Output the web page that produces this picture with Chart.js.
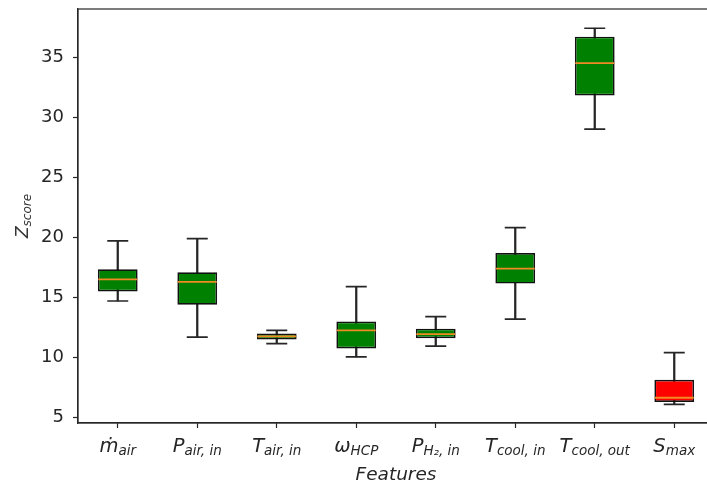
<!DOCTYPE html>
<html>
<head>
<meta charset="utf-8">
<script src="https://cdn.jsdelivr.net/npm/chart.js@4"></script>
<style>
  html, body { margin: 0; padding: 0; background: #fff; overflow: hidden; }
</style>
</head>
<body>
<canvas id="myChart" width="714" height="484"></canvas>
<script>
// features on the x axis, "_" splits the symbol from its subscript
var features = ['ṁ_air', 'P_air, in', 'T_air, in', 'ω_HCP', 'P_H₂, in', 'T_cool, in', 'T_cool, out', 'S_max'];
var whiskerLow  = [14.7, 11.7, 11.15, 10.05, 10.95, 13.2, 29.0, 6.1];
var quartile1   = [15.5, 14.4, 11.5, 10.75, 11.6, 16.15, 31.8, 6.3];
var medians     = [16.5, 16.3, 11.75, 12.25, 11.95, 17.4, 34.5, 6.65];
var quartile3   = [17.35, 17.1, 12.0, 13.0, 12.4, 18.7, 36.7, 8.15];
var whiskerHigh = [19.7, 19.9, 12.25, 15.9, 13.4, 20.8, 37.4, 10.4];
var boxColors   = ['green', 'green', 'green', 'green', 'green', 'green', 'green', 'red'];
var yTicks = [5, 10, 15, 20, 25, 30, 35];
var yTitle = 'Z_score';
var xTitle = 'Features';

var inkColor = '#262626';

function drawMath(ctx, text, cx, y, size, subSize) {
  var parts = text.split('_');
  var mainFont = 'italic ' + size + 'px "DejaVu Sans"';
  var subFont = 'italic ' + subSize + 'px "DejaVu Sans"';
  ctx.font = mainFont;
  var w1 = ctx.measureText(parts[0]).width;
  ctx.font = subFont;
  var w2 = ctx.measureText(parts[1]).width;
  var left = cx - (w1 + w2) / 2;
  ctx.textAlign = 'left';
  ctx.textBaseline = 'alphabetic';
  ctx.font = mainFont;
  ctx.fillText(parts[0], left, y);
  ctx.font = subFont;
  ctx.fillText(parts[1], left + w1, y + size * 0.16);
}

// frame, math tick labels and y title
var mathLabels = {
  id: 'mathLabels',
  afterDraw: function(chart) {
    var ctx = chart.ctx;
    var area = chart.chartArea;
    var xScale = chart.scales.x;
    ctx.save();
    ctx.strokeStyle = inkColor;
    ctx.lineWidth = 1.2;
    ctx.strokeRect(area.left, area.top, area.right - area.left, area.bottom - area.top);
    ctx.fillStyle = inkColor;
    for (var i = 0; i < features.length; i++) {
      drawMath(ctx, features[i], xScale.getPixelForValue(i), area.bottom + 29, 19.5, 13.5);
    }
    ctx.translate(28, (area.top + area.bottom) / 2);
    ctx.rotate(-Math.PI / 2);
    ctx.fillStyle = '#333';
    drawMath(ctx, yTitle, 0, 0, 17, 12);
    ctx.restore();
  }
};

function pairs(a, b) {
  var out = [];
  for (var i = 0; i < a.length; i++) {
    out.push([a[i], b[i]]);
  }
  return out;
}

var ctx = document.getElementById('myChart').getContext('2d');
var chart = new Chart(ctx, {
  type: 'bar',
  data: {
    labels: features,
    datasets: [
      {
        // whisker stems
        data: pairs(whiskerLow, whiskerHigh),
        backgroundColor: inkColor,
        barThickness: 1.6,
        grouped: false,
        order: 3
      },
      {
        // boxes q1..q3
        data: pairs(quartile1, quartile3),
        backgroundColor: boxColors,
        borderColor: '#111',
        borderWidth: 1.7,
        borderSkipped: false,
        barPercentage: 0.5,
        categoryPercentage: 1,
        grouped: false,
        order: 2
      },
      {
        type: 'line',
        data: medians,
        showLine: false,
        pointStyle: 'line',
        pointRadius: 19.5,
        pointBorderColor: '#f08a24',
        pointBorderWidth: 1.8,
        order: 1
      },
      {
        type: 'line',
        data: whiskerLow,
        showLine: false,
        pointStyle: 'line',
        pointRadius: 10.5,
        pointBorderColor: inkColor,
        pointBorderWidth: 1.7,
        order: 1
      },
      {
        type: 'line',
        data: whiskerHigh,
        showLine: false,
        pointStyle: 'line',
        pointRadius: 10.5,
        pointBorderColor: inkColor,
        pointBorderWidth: 1.7,
        order: 1
      }
    ]
  },
  options: {
    responsive: false,
    animation: false,
    events: [],
    layout: { padding: { top: 9, left: 0, right: 0, bottom: 0 }, autoPadding: false },
    plugins: { legend: { display: false }, tooltip: { enabled: false } },
    scales: {
      x: {
        offset: true,
        grid: { offset: false, drawOnChartArea: false, tickLength: 5, tickColor: inkColor, tickWidth: 1.2 },
        border: { color: inkColor, width: 1.2 },
        ticks: { display: false },
        title: {
          display: true,
          text: xTitle,
          color: inkColor,
          padding: 0,
          font: { family: 'DejaVu Sans', style: 'italic', size: 18.5, lineHeight: 1 }
        },
        afterFit: function(scale) {
          scale.height = 61;
          scale.paddingLeft = 0;
          scale.paddingRight = 0;
        }
      },
      y: {
        min: 4.55,
        max: 39.0,
        afterBuildTicks: function(scale) {
          scale.ticks = yTicks.map(function(v) { return { value: v }; });
        },
        grid: { drawOnChartArea: false, tickLength: 5, tickColor: inkColor, tickWidth: 1.2 },
        border: { color: inkColor, width: 1.2 },
        ticks: {
          color: inkColor,
          padding: 9,
          font: { family: 'DejaVu Sans', size: 18 }
        },
        afterFit: function(scale) {
          scale.width = 78;
          scale.paddingTop = 0;
          scale.paddingBottom = 0;
        }
      }
    }
  },
  plugins: [mathLabels]
});
</script>
</body>
</html>
